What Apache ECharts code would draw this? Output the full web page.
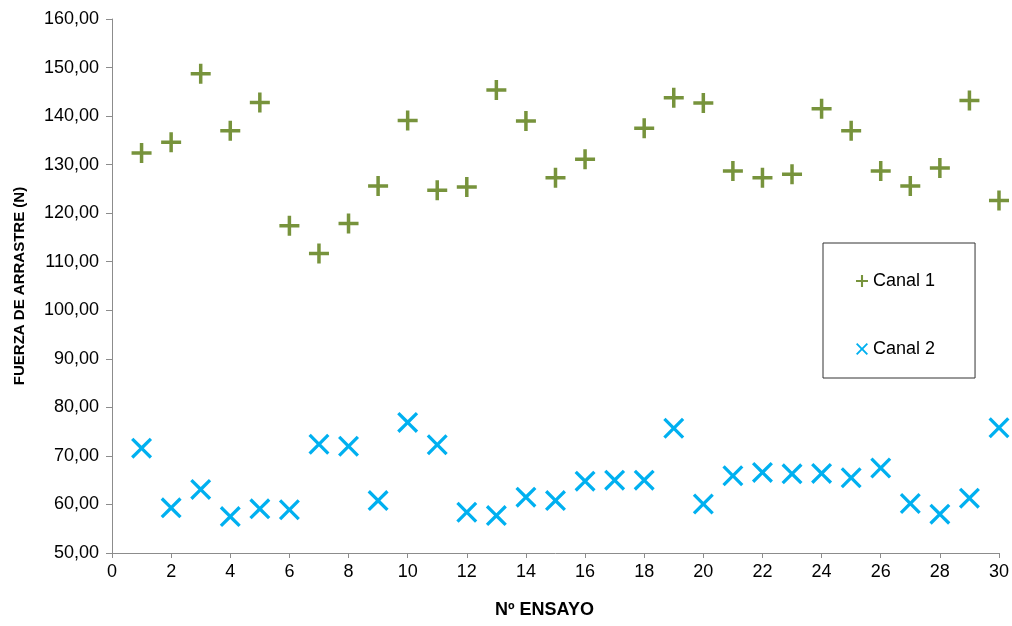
<!DOCTYPE html>
<html>
<head>
<meta charset="utf-8">
<script src="https://cdn.jsdelivr.net/npm/echarts@6/dist/echarts.min.js"></script>
<style>
html,body{margin:0;padding:0;background:#fff;}
#chart{width:1012px;height:626px;}
</style>
</head>
<body>
<div id="chart"></div>
<script>
var ensayos = [1,2,3,4,5,6,7,8,9,10,11,12,13,14,15,16,17,18,19,20,21,22,23,24,25,26,27,28,29,30];
var canal1 = [132.4,134.6,148.7,137.0,142.8,117.4,111.7,117.9,125.6,139.1,124.7,125.4,145.4,139.0,127.3,131.1,null,137.5,143.8,142.7,128.7,127.3,128.0,141.5,137.0,128.7,125.6,129.3,143.2,122.6];
var canal2 = [71.6,59.3,63.1,57.5,59.1,58.9,72.4,72.0,60.8,76.9,72.3,58.4,57.7,61.5,60.8,64.8,65.0,65.0,75.7,60.1,65.9,66.6,66.3,66.4,65.5,67.5,60.2,58.0,61.3,75.8];
var seriesNames = ['Canal 1','Canal 2'];
var yTitle = 'FUERZA DE ARRASTRE (N)';
var xTitle = 'Nº ENSAYO';

var plusPath = 'path://M8.25,0 H11.75 V8.25 H20 V11.75 H11.75 V20 H8.25 V11.75 H0 V8.25 H8.25 Z';
var d = 2.2;
var xPath = 'path://M0,' + d + ' L' + d + ',0 L10,' + (10-d) + ' L' + (20-d) + ',0 L20,' + d + ' L' + (10+d) + ',10 L20,' + (20-d) + ' L' + (20-d) + ',20 L10,' + (10+d) + ' L' + d + ',20 L0,' + (20-d) + ' L' + (10-d) + ',10 Z';

function pairs(xs, ys){
  var out = [];
  for (var i = 0; i < xs.length; i++) { if (ys[i] !== null) out.push([xs[i], ys[i]]); }
  return out;
}

var font = 'Liberation Sans, Arial, sans-serif';
var chart = echarts.init(document.getElementById('chart'));
chart.setOption({
  animation: false,
  backgroundColor: '#ffffff',
  grid: {left: 112, right: 13, top: 19, bottom: 73},
  legend: {
    orient: 'vertical',
    left: 823, top: 243,
    padding: [29, 40, 20, 33],
    itemGap: 50,
    itemWidth: 12, itemHeight: 12,
    borderColor: '#333333', borderWidth: 1,
    textStyle: {fontFamily: font, fontSize: 18, color: '#000'},
    data: [
      {name: seriesNames[0], icon: plusPath},
      {name: seriesNames[1], icon: xPath}
    ]
  },
  xAxis: {
    type: 'value', min: 0, max: 30, interval: 2,
    name: xTitle, nameLocation: 'middle', nameGap: 48,
    nameTextStyle: {fontFamily: font, fontSize: 18, fontWeight: 'bold', color: '#000', padding: [0, 22, 0, 0]},
    axisLine: {show: true, lineStyle: {color: '#8c8c8c', width: 1}},
    axisTick: {show: true, length: 5, lineStyle: {color: '#8c8c8c'}},
    axisLabel: {fontFamily: font, fontSize: 18, color: '#000', margin: 10},
    splitLine: {show: false}
  },
  yAxis: {
    type: 'value', min: 50, max: 160, interval: 10,
    name: yTitle, nameLocation: 'middle', nameGap: 85, nameRotate: 90,
    nameTextStyle: {fontFamily: font, fontSize: 15, fontWeight: 'bold', color: '#000'},
    axisLine: {show: true, lineStyle: {color: '#8c8c8c', width: 1}},
    axisTick: {show: true, length: 6, lineStyle: {color: '#8c8c8c'}},
    axisLabel: {fontFamily: font, fontSize: 18, color: '#000', margin: 13,
      formatter: function(v){ return v.toFixed(2).replace('.', ','); }},
    splitLine: {show: false}
  },
  series: [
    {name: seriesNames[0], type: 'scatter', symbol: plusPath, symbolSize: 20,
     itemStyle: {color: '#77933C', opacity: 1}, data: pairs(ensayos, canal1)},
    {name: seriesNames[1], type: 'scatter', symbol: xPath, symbolSize: 21,
     itemStyle: {color: '#00B0F0', opacity: 1}, data: pairs(ensayos, canal2)}
  ]
});
</script>
</body>
</html>
